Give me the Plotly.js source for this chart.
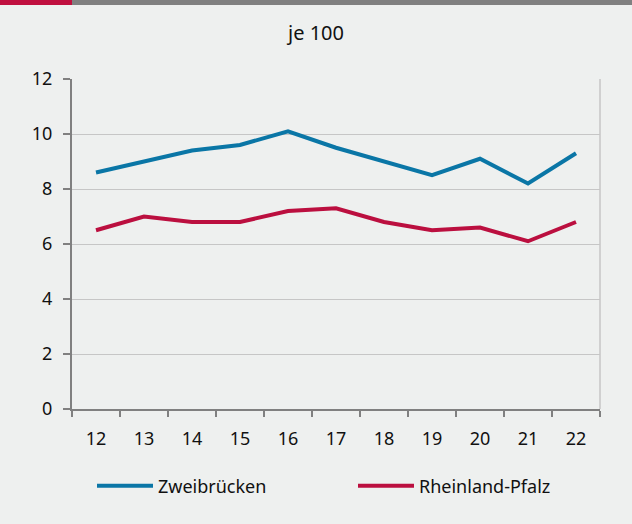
<!DOCTYPE html>
<html>
<head>
<meta charset="utf-8">
<script src="https://cdn.plot.ly/plotly-3.0.1.min.js"></script>
<style>
  html, body { margin: 0; padding: 0; background: #eef0ef; }
  #chart { width: 632px; height: 524px; }
</style>
</head>
<body>
<div id="chart"></div>
<script>
const years = ['12', '13', '14', '15', '16', '17', '18', '19', '20', '21', '22'];
const zweibruecken = [8.6, 9.0, 9.4, 9.6, 10.1, 9.5, 9.0, 8.5, 9.1, 8.2, 9.3];
const rheinlandPfalz = [6.5, 7.0, 6.8, 6.8, 7.2, 7.3, 6.8, 6.5, 6.6, 6.1, 6.8];
const seriesNames = ['Zweibrücken', 'Rheinland-Pfalz'];
const yTicks = [0, 2, 4, 6, 8, 10, 12];

const FONT = '"Noto Sans", "Open Sans", sans-serif';

const traces = [
  {
    x: years, y: zweibruecken, name: seriesNames[0], type: 'scatter', mode: 'lines',
    line: { color: '#0a76a6', width: 4 }, hoverinfo: 'skip', legend: 'legend'
  },
  {
    x: years, y: rheinlandPfalz, name: seriesNames[1], type: 'scatter', mode: 'lines',
    line: { color: '#bb0f3f', width: 4 }, hoverinfo: 'skip', legend: 'legend2'
  }
];

const L = 72, R = 600, T = 79, B = 409, W = 632, H = 524;
const px2x = p => (p - L) / (R - L);
const px2y = p => (B - p) / (B - T);

const legendBase = {
  orientation: 'h', xanchor: 'left', yanchor: 'middle', y: px2y(486),
  itemwidth: 56,
  font: { family: FONT, size: 18, color: '#111111' },
  bgcolor: 'rgba(0,0,0,0)', borderwidth: 0
};

const layout = {
  width: W, height: H,
  paper_bgcolor: '#eef0ef', plot_bgcolor: '#eef0ef',
  margin: { l: L, r: W - R, t: T, b: H - B, pad: 0 },
  font: { family: FONT, size: 18, color: '#111111' },
  title: {
    text: 'je 100', font: { family: FONT, size: 20, color: '#111111' },
    x: 0.5, xanchor: 'center', y: 1 - 33 / H, yanchor: 'middle'
  },
  xaxis: {
    type: 'category', range: [-0.5, years.length - 0.5],
    tickson: 'boundaries', ticks: 'outside', ticklen: 6,
    tickcolor: '#808080', tickwidth: 1.5, ticklabelstandoff: 12,
    showline: true, linecolor: '#808080', linewidth: 2,
    showgrid: false, zeroline: false, fixedrange: true,
    tickfont: { family: FONT, size: 18, color: '#111111' }
  },
  yaxis: {
    range: [0, 12], tickvals: yTicks, ticks: 'outside', ticklen: 7,
    tickcolor: '#808080', tickwidth: 1.5, ticklabelstandoff: 7,
    showline: true, linecolor: '#808080', linewidth: 2,
    showgrid: true, gridcolor: '#c6c6c6', gridwidth: 1,
    zeroline: false, fixedrange: true,
    tickfont: { family: FONT, size: 18, color: '#111111' }
  },
  showlegend: true,
  legend: Object.assign({}, legendBase, { x: px2x(92) }),
  legend2: Object.assign({}, legendBase, { x: px2x(353) }),
  shapes: [
    { type: 'rect', xref: 'paper', yref: 'paper', x0: px2x(0), x1: px2x(72), y0: px2y(5), y1: px2y(0),
      fillcolor: '#c0103f', line: { width: 0 }, layer: 'above' },
    { type: 'rect', xref: 'paper', yref: 'paper', x0: px2x(72), x1: px2x(632), y0: px2y(5), y1: px2y(0),
      fillcolor: '#808080', line: { width: 0 }, layer: 'above' },
    { type: 'line', xref: 'paper', yref: 'paper', x0: 1, x1: 1, y0: 0, y1: 1,
      line: { color: '#c6c6c6', width: 1.5 }, layer: 'below' }
  ]
};

Plotly.newPlot('chart', traces, layout, { displayModeBar: false, staticPlot: true });
</script>
</body>
</html>
